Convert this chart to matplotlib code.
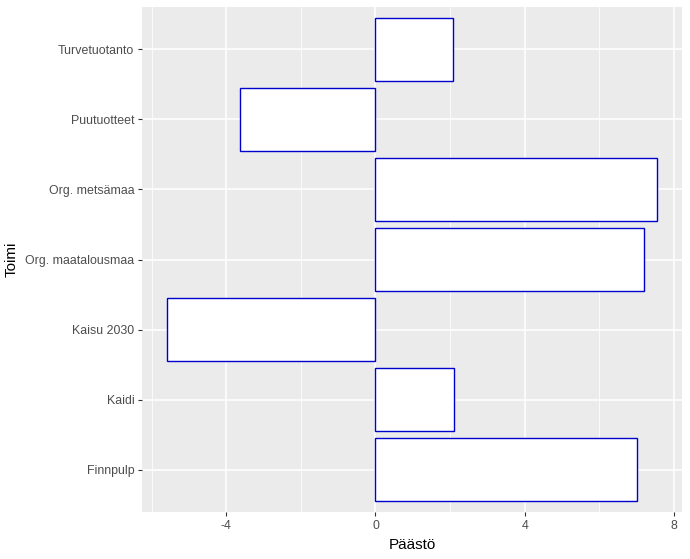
import matplotlib.pyplot as plt

toimi = ['Finnpulp', 'Kaidi', 'Kaisu 2030', 'Org. maatalousmaa',
         'Org. metsämaa', 'Puutuotteet', 'Turvetuotanto']
paasto = [7.02, 2.1, -5.6, 7.2, 7.56, -3.62, 2.07]
x_ticks = [-4, 0, 4, 8]
x_minor = [-6, -2, 2, 6]

plt.rcParams['font.family'] = ['Liberation Sans', 'DejaVu Sans']

fig = plt.figure(figsize=(6.9, 5.59), dpi=100)
ax = fig.add_axes([142 / 690, 47 / 559, 540 / 690, 505 / 559])
ax.set_facecolor('#EBEBEB')

ypos = list(range(len(toimi)))
ax.barh(ypos, paasto, height=0.9, color='white', edgecolor='#0000CD',
        linewidth=1.0, zorder=3)

lo, hi = min(min(paasto), 0), max(max(paasto), 0)
pad = (hi - lo) * 0.05
ax.set_xlim(lo - pad, hi + pad)
ax.set_ylim(-0.6, len(toimi) - 0.4)

ax.set_xticks(x_ticks)
ax.set_xticklabels([str(t) for t in x_ticks])
ax.set_xticks(x_minor, minor=True)
ax.set_yticks(ypos)
ax.set_yticklabels(toimi)

ax.grid(True, which='major', color='white', linewidth=1.1, zorder=0)
ax.grid(True, which='minor', axis='x', color='white', linewidth=0.55, zorder=0)
ax.set_axisbelow(True)
for s in ax.spines.values():
    s.set_visible(False)

ax.tick_params(axis='both', which='major', length=3, width=0.8, color='#333333',
               labelsize=8.9, labelcolor='#4D4D4D', pad=2.5)
ax.tick_params(axis='both', which='minor', length=0)

ax.set_xlabel('Päästö', fontsize=11, color='black', labelpad=4.5)
ax.set_ylabel('Toimi', fontsize=11, color='black', labelpad=5)

fig.savefig('out.png', dpi=100)
